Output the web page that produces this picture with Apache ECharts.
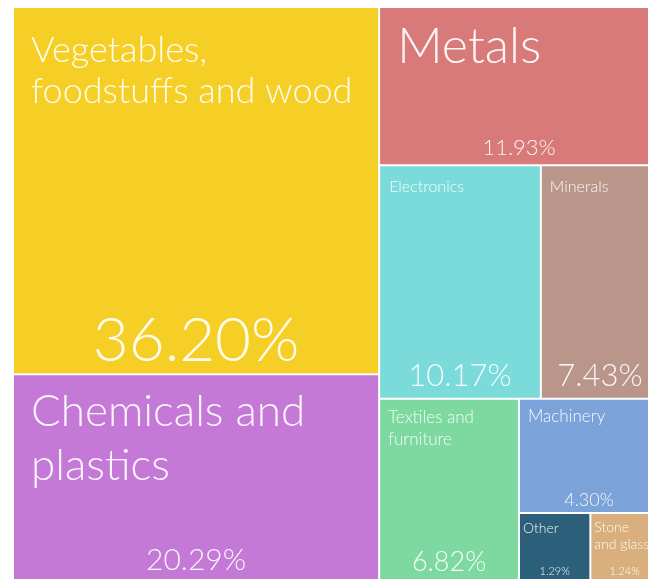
<!DOCTYPE html>
<html>
<head>
<meta charset="utf-8" />
<title>Treemap</title>
<script src="https://cdn.jsdelivr.net/npm/echarts@6/dist/echarts.min.js"></script>
<style>
html, body { margin: 0; padding: 0; background: #fff; }
</style>
</head>
<body>
<div id="main" style="width: 648px;height:579px;"></div>
<script type="text/javascript">
var chart = echarts.init(document.getElementById('main'));

// data
var categories = ['Vegetables, foodstuffs and wood', 'Chemicals and plastics', 'Metals',
  'Electronics', 'Minerals', 'Textiles and furniture', 'Machinery', 'Other', 'Stone and glass'];
var shares = [36.20, 20.29, 11.93, 10.17, 7.43, 6.82, 4.30, 1.29, 1.24];
var colors = ['#f5cf25', '#c479d7', '#d87a7a', '#7bdbda', '#ba968a', '#7ed9a0', '#7ba3d9', '#2b5f7a', '#d9b07d'];

// grouping that gives the block arrangement
var layoutTree = [
  ['Vegetables, foodstuffs and wood', 'Chemicals and plastics'],
  ['Metals', ['Electronics', 'Minerals'],
    ['Textiles and furniture', ['Machinery', ['Other', 'Stone and glass']]]]
];

// how each block's text is broken and sized
var labelStyle = {
  'Vegetables, foodstuffs and wood': { text: 'Vegetables,\nfoodstuffs and wood', name: 36, lh: 41, pct: 62, pad: [22, 17], gap: -3 },
  'Chemicals and plastics': { text: 'Chemicals and\nplastics', name: 44, lh: 54, pct: 30, pad: [10, 17], gap: 0 },
  'Metals': { text: 'Metals', name: 50, lh: 60, pct: 22, pad: [9, 17], gap: 1 },
  'Electronics': { text: 'Electronics', name: 16, lh: 19, pct: 31, pad: [11, 9], gap: 2 },
  'Minerals': { text: 'Minerals', name: 16, lh: 19, pct: 31, pad: [11, 8], gap: 2 },
  'Textiles and furniture': { text: 'Textiles and\nfurniture', name: 17, lh: 22, pct: 27, pad: [7, 8], gap: -1 },
  'Machinery': { text: 'Machinery', name: 17, lh: 20, pct: 18, pad: [7, 8], gap: -1 },
  'Other': { text: 'Other', name: 14, lh: 17, pct: 11, pad: [6, 3], gap: -2 },
  'Stone and glass': { text: 'Stone\nand glass', name: 14, lh: 17, pct: 11, pad: [5, 3], gap: -2 }
};

var FONT = 'Lato';
var gid = 0;

function build(node, withNames) {
  if (Array.isArray(node)) {
    return {
      name: 'group' + (gid++),
      itemStyle: { borderWidth: 0, gapWidth: 0, color: 'rgba(0,0,0,0)' },
      children: node.map(function (n) { return build(n, withNames); })
    };
  }
  var i = categories.indexOf(node);
  var s = labelStyle[node];
  return {
    name: node,
    value: shares[i],
    itemStyle: withNames
      ? { color: colors[i], borderWidth: 1, borderColor: 'rgba(255,255,255,0.6)' }
      : { color: 'rgba(0,0,0,0)', borderWidth: 0 },
    label: withNames ? {
      fontSize: s.name,
      lineHeight: s.lh,
      padding: [s.pad[0], 0, 0, s.pad[1]]
    } : {
      fontSize: s.pct,
      lineHeight: s.pct,
      distance: s.gap
    }
  };
}

var common = {
  type: 'treemap',
  left: 13,
  top: 7,
  width: 646,
  height: 573,
  roam: false,
  nodeClick: false,
  sort: false,
  breadcrumb: { show: false },
  squareRatio: 1,
  itemStyle: { borderWidth: 0, gapWidth: 0 },
  upperLabel: { show: false }
};

function textOf(p, fn) {
  return labelStyle[p.name] ? fn(p) : '';
}

option = {
  animation: false,
  series: [
    Object.assign({}, common, {
      label: {
        show: true,
        position: 'insideTopLeft',
        overflow: 'none',
        color: 'rgba(255,255,255,0.92)',
        fontFamily: FONT,
        fontWeight: 300,
        formatter: function (p) { return textOf(p, function (q) { return labelStyle[q.name].text; }); }
      },
      data: build(layoutTree, true).children
    }),
    Object.assign({}, common, {
      silent: true,
      label: {
        show: true,
        position: 'insideBottom',
        overflow: 'none',
        color: 'rgba(255,255,255,0.92)',
        fontFamily: FONT,
        fontWeight: 300,
        formatter: function (p) { return textOf(p, function (q) { return q.value.toFixed(2) + '%'; }); }
      },
      data: build(layoutTree, false).children
    })
  ]
};

chart.setOption(option);
</script>
</body>
</html>
